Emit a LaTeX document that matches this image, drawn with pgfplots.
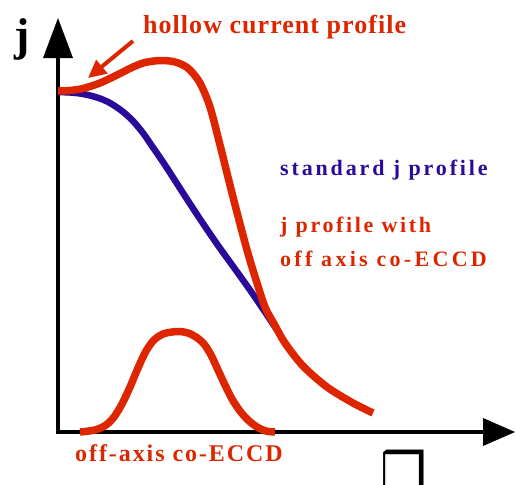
\documentclass[border=0pt]{standalone}
\usepackage{fontspec}
\setmainfont{Liberation Serif}
\newfontfamily\symfont{DejaVu Sans}
\usepackage{pgfplots}
\pgfplotsset{compat=1.18}
\usetikzlibrary{arrows.meta}
\definecolor{jred}{RGB}{221,38,0}
\definecolor{jblue}{RGB}{42,10,154}
\newcommand{\ls}[2]{{\addfontfeature{LetterSpace=#1}#2}}
\begin{document}
\begin{tikzpicture}
\begin{axis}[width=515pt,height=485pt,scale only axis,
  xmin=0,xmax=515,ymin=0,ymax=485,y dir=reverse,hide axis,clip=false]
% axes
\draw[line width=3.5pt,line join=miter] (axis cs:58,55) -- (axis cs:58,432) -- (axis cs:488,432);
\fill (axis cs:483,418) -- (axis cs:515,432) -- (axis cs:483,446) -- cycle;
\fill (axis cs:43,58) -- (axis cs:58,18) -- (axis cs:73,58) -- cycle;
% standard profile
\addplot[jblue, line width=6.5pt, smooth, tension=0.5] coordinates {
(58,92) (70,92.5) (80,93.5) (90,95.5) (100,98.5) (110,103) (122,111) (133,121)
(143,133) (152,146) (165,165) (183,193) (200,219) (217,244) (235,269) (250,290)
(263,309) (277,330)};
% hollow profile
\addplot[jred, line width=7.5pt, smooth, tension=0.5] coordinates {
(58,91) (70,90.5) (83,88.5) (100,83) (117,75) (133,67) (145,62.5) (160,60.5)
(173,61.5) (183,65) (190,70) (200,83) (210,107) (220,145) (233,197) (247,250)
(257,283) (265,307) (273,322) (285,343) (303,366) (327,387) (353,403) (373,413)};
% off-axis ECCD
\addplot[jred, line width=7.5pt, smooth, tension=0.5] coordinates {
(80,432) (95,430) (106,425) (114,417) (122,404) (130,387) (138,368) (146,351)
(154,340) (163,334) (172,332) (180,331.5) (188,333) (196,337) (204,344) (211,355)
(218,370) (225,385) (232,399) (240,411) (248,420) (257,427) (266,431) (275,432)};
% annotation arrow
\draw[jred, line width=4pt, -{Triangle[length=18pt,width=17pt]}] (axis cs:133,41) -- (axis cs:88,78);
% texts
\node[inner sep=0pt] at (axis cs:22,39) {\fontsize{46}{50}\selectfont\bfseries j};
\node[anchor=base west,inner sep=0pt,text=jred] at (axis cs:143,33)
  {\fontsize{26}{30}\selectfont\bfseries\ls{4}{hollow current profile}};
\node[anchor=base west,inner sep=0pt,text=jblue] at (axis cs:280,175)
  {\fontsize{22}{26}\selectfont\bfseries\ls{13}{standard j profile}};
\node[anchor=base west,inner sep=0pt,text=jred] at (axis cs:280,232)
  {\fontsize{22}{26}\selectfont\bfseries\ls{12}{j profile with}};
\node[anchor=base west,inner sep=0pt,text=jred] at (axis cs:280,266)
  {\fontsize{22}{26}\selectfont\bfseries\ls{15}{off axis co-ECCD}};
\node[anchor=base west,inner sep=0pt,text=jred] at (axis cs:75,461)
  {\fontsize{24}{28}\selectfont\bfseries\ls{8}{off-axis co-ECCD}};
\node[anchor=north,inner sep=0pt] at (axis cs:404,450) {\fontsize{52}{56}\selectfont\symfont\bfseries ❒};
\end{axis}
\pgfresetboundingbox
\useasboundingbox (0,0) rectangle (515pt,485pt);
\end{tikzpicture}
\end{document}
